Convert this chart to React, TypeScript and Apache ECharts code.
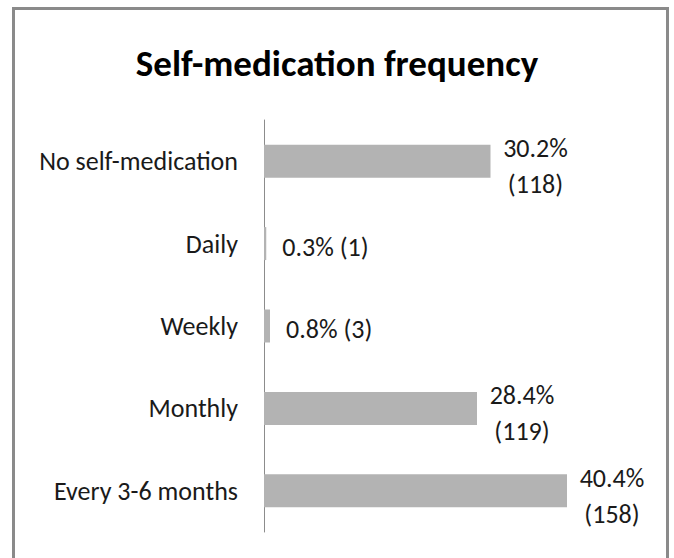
import React, { useEffect, useRef } from "react";
import * as echarts from "echarts";

const categories = ["No self-medication", "Daily", "Weekly", "Monthly", "Every 3-6 months"];
const percents = [30.2, 0.3, 0.8, 28.4, 40.4];
const counts = [118, 1, 3, 119, 158];
const titleText = "Self-medication frequency";

const FONT = "Carlito, Calibri, 'Liberation Sans Narrow', 'Noto Sans', sans-serif";

export default function App() {
  const ref = useRef<HTMLDivElement>(null);
  useEffect(() => {
    if (!ref.current) return;
    const chart = echarts.init(ref.current, undefined, { renderer: "svg" });
    const data = percents.map((v, i) => {
      const wrap = v > 5;
      return {
        value: v,
        label: wrap
          ? {
              show: true,
              position: "right",
              distance: 14,
              align: "center",
              offset: [31, 5],
              lineHeight: 36,
              formatter: `${v}%\n(${counts[i]})`,
            }
          : {
              show: true,
              position: "right",
              distance: 16,
              offset: [0, 3],
              formatter: `${v}% (${counts[i]})`,
            },
      };
    });
    chart.setOption({
      animation: false,
      backgroundColor: "#ffffff",
      title: {
        text: titleText,
        left: "center",
        top: 40,
        textStyle: { fontFamily: FONT, fontSize: 37, fontWeight: "bold", color: "#000000" },
      },
      graphic: [
        {
          type: "rect",
          shape: { x: 13.5, y: 8.5, width: 654, height: 570 },
          style: { fill: "none", stroke: "#8a8a8a", lineWidth: 3 },
          silent: true,
        },
      ],
      grid: { left: 264, right: 35, top: 120, bottom: 26, containLabel: false },
      xAxis: {
        type: "value",
        min: 0,
        max: 50,
        show: false,
      },
      yAxis: {
        type: "category",
        data: categories,
        inverse: true,
        axisLine: { show: true, lineStyle: { color: "#8c8c8c", width: 1 } },
        axisTick: { show: false },
        axisLabel: { fontFamily: FONT, fontSize: 26, color: "#1a1a1a", margin: 26 },
      },
      series: [
        {
          type: "bar",
          data,
          barWidth: 33,
          itemStyle: { color: "#b3b3b3" },
          label: { fontFamily: FONT, fontSize: 26, color: "#1a1a1a" },
        },
      ],
    });
    return () => chart.dispose();
  }, []);
  return (
    <div
      ref={ref}
      style={{ position: "absolute", left: 0, top: 0, width: 674, height: 558, background: "#fff" }}
    />
  );
}
